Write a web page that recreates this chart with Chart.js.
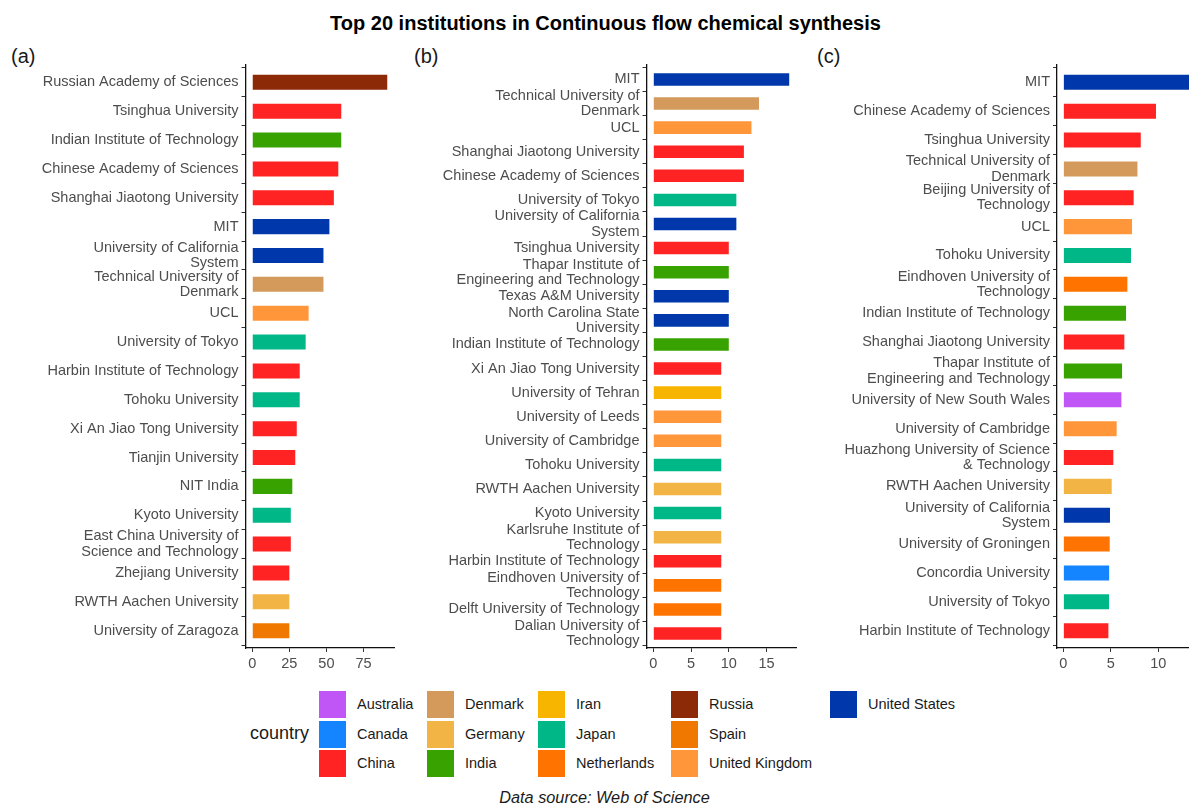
<!DOCTYPE html>
<html>
<head>
<meta charset="utf-8">
<script src="https://cdn.jsdelivr.net/npm/chart.js@4.4.1/dist/chart.umd.min.js"></script>
<style>
html, body { margin: 0; padding: 0; background: #fff; overflow: hidden; }
#wrap { position: relative; width: 1189px; height: 807px; overflow: hidden; font-family: "Liberation Sans", Arial, sans-serif; }
canvas { position: absolute; top: 0; }
#title { position: absolute; top: 12px; left: 0; width: 1211px; text-align: center; font-weight: bold; font-size: 20px; color: #000; }
.tag { position: absolute; top: 45px; font-size: 20px; color: #1a1a1a; }
#legendTitle { position: absolute; left: 250px; top: 723px; font-size: 18px; color: #1a1a1a; }
#legend { position: absolute; left: 319px; top: 691px; display: grid; grid-template-rows: repeat(3, 29.5px); grid-template-columns: 108px 111px 133px 159px auto; grid-auto-flow: column; }
.item { display: flex; align-items: flex-start; height: 29.5px; }
.sw { width: 27px; height: 27px; flex: none; }
.lab { margin-left: 11px; font-size: 14.5px; color: #1a1a1a; line-height: 27px; white-space: nowrap; }
#caption { position: absolute; top: 788px; left: 0; width: 1209px; text-align: center; font-style: italic; font-size: 16.3px; color: #1a1a1a; }
</style>
</head>
<body>
<div id="wrap">
  <div id="title">Top 20 institutions in Continuous flow chemical synthesis</div>
  <div class="tag" style="left:11px">(a)</div>
  <div class="tag" style="left:414px">(b)</div>
  <div class="tag" style="left:817px">(c)</div>
  <canvas id="chartA" width="400" height="690" style="left:0px"></canvas>
  <canvas id="chartB" width="405" height="690" style="left:400px"></canvas>
  <canvas id="chartC" width="400" height="690" style="left:805px"></canvas>
  <div id="legendTitle">country</div>
  <div id="legend"></div>
  <div id="caption">Data source: Web of Science</div>
</div>
<script>
// countries and their fill colours
var countryNames = ['Australia', 'Canada', 'China', 'Denmark', 'Germany', 'India', 'Iran',
    'Japan', 'Netherlands', 'Russia', 'Spain', 'United Kingdom', 'United States'];
var countryColors = ['#c056f5', '#1484ff', '#ff2323', '#d39a5c', '#f2b444', '#38a300', '#f7b500',
    '#00b887', '#ff7300', '#8c2a07', '#f07800', '#ff963a', '#0038ab'];

// panel (a)
var instA = ['Russian Academy of Sciences', 'Tsinghua University', 'Indian Institute of Technology',
    'Chinese Academy of Sciences', 'Shanghai Jiaotong University', 'MIT',
    ['University of California', 'System'], ['Technical University of', 'Denmark'], 'UCL',
    'University of Tokyo', 'Harbin Institute of Technology', 'Tohoku University',
    'Xi An Jiao Tong University', 'Tianjin University', 'NIT India', 'Kyoto University',
    ['East China University of', 'Science and Technology'], 'Zhejiang University',
    'RWTH Aachen University', 'University of Zaragoza'];
var countryA = ['Russia', 'China', 'India', 'China', 'China', 'United States', 'United States',
    'Denmark', 'United Kingdom', 'Japan', 'China', 'Japan', 'China', 'China', 'India', 'Japan',
    'China', 'China', 'Germany', 'Spain'];
var valuesA = [91, 60, 60, 58, 55, 52, 48, 48, 38, 36, 32, 32, 30, 29, 27, 26, 26, 25, 25, 25];
var ticksA = [0, 25, 50, 75];

// panel (b)
var instB = ['MIT', ['Technical University of', 'Denmark'], 'UCL', 'Shanghai Jiaotong University',
    'Chinese Academy of Sciences', 'University of Tokyo', ['University of California', 'System'],
    'Tsinghua University', ['Thapar Institute of', 'Engineering and Technology'],
    'Texas A&M University', ['North Carolina State', 'University'], 'Indian Institute of Technology',
    'Xi An Jiao Tong University', 'University of Tehran', 'University of Leeds',
    'University of Cambridge', 'Tohoku University', 'RWTH Aachen University', 'Kyoto University',
    ['Karlsruhe Institute of', 'Technology'], 'Harbin Institute of Technology',
    ['Eindhoven University of', 'Technology'], 'Delft University of Technology',
    ['Dalian University of', 'Technology']];
var countryB = ['United States', 'Denmark', 'United Kingdom', 'China', 'China', 'Japan',
    'United States', 'China', 'India', 'United States', 'United States', 'India', 'China', 'Iran',
    'United Kingdom', 'United Kingdom', 'Japan', 'Germany', 'Japan', 'Germany', 'China',
    'Netherlands', 'Netherlands', 'China'];
var valuesB = [18, 14, 13, 12, 12, 11, 11, 10, 10, 10, 10, 10, 9, 9, 9, 9, 9, 9, 9, 9, 9, 9, 9, 9];
var ticksB = [0, 5, 10, 15];

// panel (c)
var instC = ['MIT', 'Chinese Academy of Sciences', 'Tsinghua University',
    ['Technical University of', 'Denmark'], ['Beijing University of', 'Technology'], 'UCL',
    'Tohoku University', ['Eindhoven University of', 'Technology'], 'Indian Institute of Technology',
    'Shanghai Jiaotong University', ['Thapar Institute of', 'Engineering and Technology'],
    'University of New South Wales', 'University of Cambridge',
    ['Huazhong University of Science', '& Technology'], 'RWTH Aachen University',
    ['University of California', 'System'], 'University of Groningen', 'Concordia University',
    'University of Tokyo', 'Harbin Institute of Technology'];
var countryC = ['United States', 'China', 'China', 'Denmark', 'China', 'United Kingdom', 'Japan',
    'Netherlands', 'India', 'China', 'India', 'Australia', 'United Kingdom', 'China', 'Germany',
    'United States', 'Netherlands', 'Canada', 'Japan', 'China'];
var valuesC = [13.4, 9.75, 8.15, 7.8, 7.4, 7.23, 7.12, 6.74, 6.6, 6.42, 6.18, 6.11, 5.61, 5.26,
    5.09, 4.91, 4.88, 4.82, 4.81, 4.74];
var ticksC = [0, 5, 10];

var labelColor = '#4d4d4d';
var font = '"Liberation Sans", Arial, sans-serif';

function makePanel(id, names, countries, values, ticks, yWidth, rightPad) {
    var maxV = Math.max.apply(null, values);
    var n = names.length;
    new Chart(document.getElementById(id), {
        type: 'bar',
        data: {
            datasets: [{
                data: values.map(function (v, i) { return { x: v, y: i }; }),
                backgroundColor: countries.map(function (c) { return countryColors[countryNames.indexOf(c)]; }),
                barPercentage: 0.52,
                categoryPercentage: 1
            }]
        },
        options: {
            indexAxis: 'y',
            responsive: false,
            animation: false,
            layout: { padding: { top: 65, right: rightPad, left: 0, bottom: 0 } },
            plugins: { legend: { display: false }, tooltip: { enabled: false } },
            scales: {
                x: {
                    type: 'linear',
                    min: -0.05 * maxV,
                    max: 1.05 * maxV,
                    afterBuildTicks: function (s) { s.ticks = ticks.map(function (v) { return { value: v }; }); },
                    afterFit: function (s) { s.height = 42; },
                    ticks: { color: labelColor, font: { family: font, size: 14.5 }, padding: 3, maxRotation: 0 },
                    grid: { display: true, drawOnChartArea: false, drawTicks: true, tickLength: 4, color: '#333' },
                    border: { display: true, color: '#111', width: 1.3 }
                },
                y: {
                    type: 'linear',
                    reverse: true,
                    offset: false,
                    min: -0.6,
                    max: n - 0.4,
                    afterBuildTicks: function (s) { s.ticks = names.map(function (_, i) { return { value: i }; }); },
                    afterFit: function (s) { s.width = yWidth; },
                    ticks: {
                        autoSkip: false,
                        color: labelColor,
                        padding: 3,
                        font: { family: font, size: 14.5, lineHeight: 1.05 },
                        callback: function (v) { return names[v]; }
                    },
                    grid: { display: true, drawOnChartArea: false, drawTicks: true, tickLength: 4, color: '#333' },
                    border: { display: true, color: '#111', width: 1.3 }
                }
            }
        }
    });
}

makePanel('chartA', instA, countryA, valuesA, ticksA, 245.5, 6);
makePanel('chartB', instB, countryB, valuesB, ticksB, 246.5, 9);
makePanel('chartC', instC, countryC, valuesC, ticksC, 252, 8);

// legend
var legend = document.getElementById('legend');
countryNames.forEach(function (c, i) {
    var item = document.createElement('div');
    item.className = 'item';
    item.innerHTML = '<div class="sw" style="background:' + countryColors[i] + '"></div><div class="lab">' + c + '</div>';
    legend.appendChild(item);
});
</script>
</body>
</html>
